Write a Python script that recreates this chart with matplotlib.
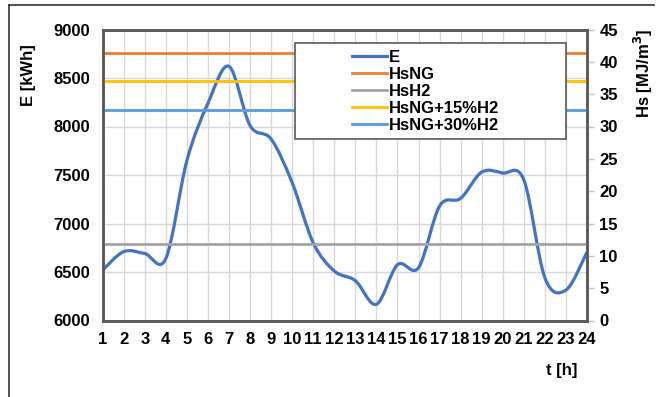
import numpy as np
import matplotlib.pyplot as plt
from matplotlib.path import Path
from matplotlib.patches import PathPatch, Rectangle
from matplotlib.lines import Line2D

# hours and hourly energy demand
hours = list(range(1, 25))
energy = [6520, 6710, 6690, 6640, 7650, 8240, 8620, 8010, 7870, 7420,
          6800, 6510, 6410, 6167, 6575, 6545, 7180, 7260, 7530, 7520,
          7450, 6440, 6314, 6705]

# calorific values [MJ/m3]
hs_names = ['HsNG', 'HsH2', 'HsNG+15%H2', 'HsNG+30%H2']
hs_values = [41.3, 11.9, 37.0, 32.6]
hs_colors = ['#ED7D31', '#A5A5A5', '#FFC000', '#5B9BD5']

e_color = '#4472C4'
spine_col = '#595959'

plt.rcParams['font.family'] = ['Liberation Sans', 'DejaVu Sans']
plt.rcParams['font.weight'] = 'bold'
plt.rcParams['font.size'] = 12

fig = plt.figure(figsize=(6.56, 3.97), dpi=100)
W, H = 656, 397
ax = fig.add_axes([102.7 / W, 1 - 320.5 / H, 484.3 / W, 291 / H])
ax2 = ax.twinx()


def smooth_path(x, y):
    # Excel-like smoothed line as cubic Bezier segments through the points
    pts = np.column_stack([x, y]).astype(float)
    n = len(pts)
    verts = [pts[0]]
    codes = [Path.MOVETO]
    for i in range(n - 1):
        p0 = pts[i - 1] if i > 0 else pts[i]
        p1 = pts[i]
        p2 = pts[i + 1]
        p3 = pts[i + 2] if i + 2 < n else pts[i + 1]
        c1 = p1 + (p2 - p0) / 6.0
        c2 = p2 - (p3 - p1) / 6.0
        verts += [c1, c2, p2]
        codes += [Path.CURVE4] * 3
    return Path(verts, codes)


ax.add_patch(PathPatch(smooth_path(hours, energy), fill=False,
                       edgecolor=e_color, lw=2.3, zorder=3))
ax.set_xlim(1, 24)
ax.set_ylim(6000, 9000)
ax.set_xticks(hours)
ax.set_yticks(range(6000, 9001, 500))
ax.grid(True, color='#D9D9D9', lw=1)
ax.set_axisbelow(True)
ax.tick_params(axis='both', length=0, labelsize=12)
ax.tick_params(axis='y', pad=9)
ax.tick_params(axis='x', pad=8)
for s in ax.spines.values():
    s.set_color(spine_col)
    s.set_linewidth(1.8)

for v, c in zip(hs_values, hs_colors):
    ax2.axhline(v, color=c, lw=2, zorder=2)
ax2.set_ylim(0, 45)
ax2.set_yticks(range(0, 46, 5))
ax2.tick_params(axis='y', length=5, width=1, color='#BFBFBF', pad=4, labelsize=12)
for s in ax2.spines.values():
    s.set_color(spine_col)
    s.set_linewidth(1.8)

# legend with a plain box behind it
ax2.add_patch(Rectangle((0.397, 0.624), 0.56, 0.33, transform=ax2.transAxes,
                        facecolor='white', edgecolor=spine_col, lw=1.2, zorder=4))
handles = [Line2D([], [], color=e_color, lw=2.3)]
handles += [Line2D([], [], color=c, lw=2) for c in hs_colors]
leg = ax2.legend(handles, ['E'] + hs_names, loc='upper left',
                 bbox_to_anchor=(0.49, 0.97), frameon=False,
                 handlelength=2.1, handletextpad=0.15, labelspacing=0.12,
                 borderpad=0.2, prop={'weight': 'bold', 'size': 12})
leg.set_zorder(5)

fig.text(28 / W, 1 - 75 / H, 'E [kWh]', rotation=90, ha='center', va='center',
         fontsize=12, fontweight='bold')
fig.text(643 / W, 1 - 73 / H, 'Hs [MJ/m$^3$]', rotation=90, ha='center',
         va='center', fontsize=12, fontweight='bold')
fig.text(562 / W, 1 - 370 / H, 't [h]', ha='center', va='center',
         fontsize=12, fontweight='bold')

# outer frame lines
fig.add_artist(Line2D([9 / W, 9 / W], [0, 1 - 5 / H], color='#333333', lw=1.2))
fig.add_artist(Line2D([9 / W, 654 / W], [1 - 5 / H, 1 - 5 / H], color='#333333', lw=1.2))

fig.savefig('out.png', dpi=100)
